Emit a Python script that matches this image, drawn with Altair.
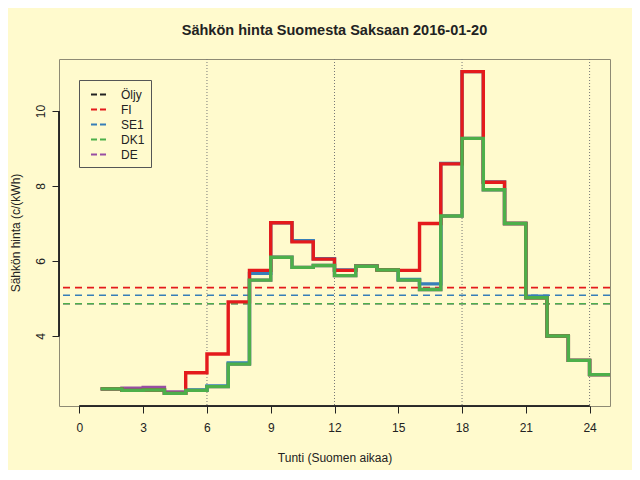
import altair as alt
import pandas as pd

# ---- data ----
hours = list(range(1, 25))
FI = [2.59, 2.55, 2.56, 2.47, 3.02, 3.52, 4.91, 5.75, 7.02, 6.51, 6.05, 5.75,
      5.86, 5.76, 5.75, 7.00, 8.59, 11.05, 8.10, 7.00, 5.02, 4.00, 3.35, 2.97]
SE1 = [2.59, 2.55, 2.56, 2.47, 2.56, 2.67, 3.28, 5.67, 7.02, 6.54, 6.06, 5.76,
       5.87, 5.77, 5.51, 5.39, 8.60, 11.05, 8.11, 7.00, 5.06, 4.00, 3.35, 2.97]
DK1 = [2.59, 2.55, 2.56, 2.47, 2.55, 2.65, 3.25, 5.49, 6.10, 5.83, 5.88, 5.61,
       5.86, 5.76, 5.49, 5.24, 7.20, 9.27, 7.90, 7.00, 5.02, 4.00, 3.35, 2.97]
DE = [2.59, 2.61, 2.63, 2.51, 2.55, 2.65, 3.25, 5.49, 6.10, 5.83, 5.88, 5.61,
      5.86, 5.76, 5.49, 5.24, 7.20, 9.27, 7.90, 7.00, 5.02, 4.00, 3.35, 2.97]

legend_names = ["Öljy", "FI", "SE1", "DK1", "DE"]
legend_colors = ["#222222", "#E41A1C", "#377EB8", "#4DAF4A", "#984EA3"]

avg_names = ["DE", "SE1", "FI", "DK1"]
avg_values = [4.86, 5.085, 5.29, 4.86]

marker_hours = [6, 12, 18, 24]
x_ticks = [0, 3, 6, 9, 12, 15, 18, 21, 24]
y_ticks = [4, 6, 8, 10]

draw_order = [("DE", DE), ("SE1", SE1), ("FI", FI), ("DK1", DK1)]

BG = "#FFFACD"
INK = "#222222"
FONT = "Liberation Sans"
W, H = 551, 347

rows = []
for name, vals in draw_order:
    # step-after: repeat the last value at the end of the final hour
    for h, v in zip(hours + [25], vals + [vals[-1]]):
        rows.append({"hour": h, "price": v, "series": name})
steps = pd.DataFrame(rows)
avgs = pd.DataFrame({"series": avg_names, "price": avg_values})
marks_df = pd.DataFrame({"hour": marker_hours})

color = alt.Color(
    "series:N",
    scale=alt.Scale(domain=legend_names, range=legend_colors),
    legend=alt.Legend(
        title=None, orient="none", legendX=20, legendY=21,
        symbolType="stroke", symbolSize=225, symbolStrokeWidth=2,
        symbolDash=[6, 3], symbolOffset=5, labelOffset=14,
        labelFontSize=12, labelFont=FONT, labelColor=INK,
        padding=6, rowPadding=0,
        strokeColor="#555555", fillColor=BG,
    ),
)

xs = alt.Scale(domain=[-0.96, 24.96], nice=False, zero=False)
ys = alt.Scale(domain=[2.133, 11.387], nice=False, zero=False)

x_axis = alt.Axis(
    values=x_ticks, title="Tunti (Suomen aikaa)", domain=False, grid=False,
    tickColor=INK, tickSize=7, tickWidth=1, labelPadding=9,
    labelFontSize=12, labelFont=FONT, labelColor=INK, labelBaseline="top",
    titleFont=FONT, titleFontSize=12, titleFontWeight="normal", titleColor=INK,
    titleX=W / 2, titleY=51, titleBaseline="middle",
)
y_axis = alt.Axis(
    values=y_ticks, title="Sähkön hinta (c/(kWh)", domain=False, grid=False,
    tickColor=INK, tickSize=7, tickWidth=1, labelPadding=12,
    labelAngle=270, labelAlign="center", labelBaseline="middle",
    labelFontSize=12, labelFont=FONT, labelColor=INK,
    titleFont=FONT, titleFontSize=12, titleFontWeight="normal", titleColor=INK,
    titleAngle=270, titleX=-44, titleY=H / 2, titleBaseline="middle", titleAlign="center",
)

vlines = alt.Chart(marks_df).mark_rule(
    color="#777777", strokeWidth=1, strokeDash=[1, 2]
).encode(x=alt.X("hour:Q", scale=xs, axis=x_axis))

avg_layer = alt.Chart(avgs).mark_rule(
    strokeWidth=1.6, strokeDash=[7, 5], clip=True
).encode(y=alt.Y("price:Q", scale=ys, axis=y_axis), color=color)

step_layers = [
    alt.Chart(steps).transform_filter(alt.datum.series == name).mark_line(
        interpolate="step-after", strokeWidth=3.4, clip=True, strokeJoin="miter", strokeCap="butt"
    ).encode(
        x=alt.X("hour:Q", scale=xs, axis=x_axis),
        y=alt.Y("price:Q", scale=ys, axis=y_axis),
        color=color,
    )
    for name, _ in draw_order
]

x_line = alt.Chart(marks_df).mark_rule(color=INK, strokeWidth=1).encode(
    x=alt.datum(x_ticks[0]), x2=alt.datum(x_ticks[-1]), y=alt.value(H)
)
y_line = alt.Chart(marks_df).mark_rule(color=INK, strokeWidth=1).encode(
    y=alt.datum(y_ticks[0]), y2=alt.datum(y_ticks[-1]), x=alt.value(0)
)

chart = alt.layer(vlines, avg_layer, *step_layers, x_line, y_line).properties(
    width=W, height=H,
    autosize=alt.AutoSizeParams(type="none"),
    padding={"left": 51, "top": 51, "right": 22, "bottom": 64},
    background=BG,
    title=alt.TitleParams(
        "Sähkön hinta Suomesta Saksaan 2016-01-20",
        font=FONT, fontSize=14.5, fontWeight="bold", color=INK,
        anchor="middle", baseline="alphabetic", offset=9,
    ),
).configure_view(stroke="#8E8A74", strokeWidth=1)

chart.save("out.html", embed_options={"renderer": "svg", "actions": False})
